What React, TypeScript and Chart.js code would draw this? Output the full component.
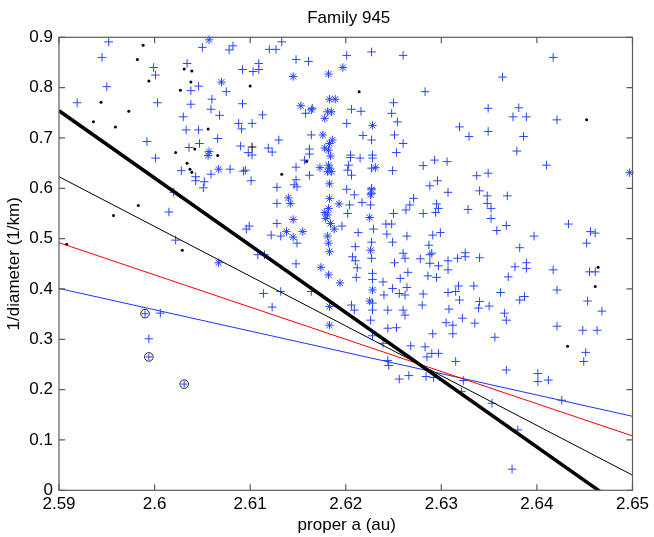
import React, { useEffect, useRef } from "react";
import { Chart, registerables } from "chart.js";

Chart.register(...registerables);

const TITLE = "Family 945";
const X_LABEL = "proper a (au)";
const Y_LABEL = "1/diameter (1/km)";

const X_MIN = 2.59;
const X_MAX = 2.65;
const X_STEP = 0.01;
const Y_MIN = 0;
const Y_MAX = 0.9;
const Y_STEP = 0.1;

// Fit lines (endpoints at the x-axis limits)
const lineX = [2.59, 2.65];
const thickLineY = [0.754, -0.0476];
const thinLineY = [0.623, 0.03];
const redLineY = [0.492, 0.108];
const blueLineY = [0.401, 0.147];

// Blue "+" members
const crossX = [
  2.5952, 2.5945, 2.595, 2.5919, 2.5999, 2.6001, 2.6003, 2.5992, 2.6001, 2.6034,
  2.605, 2.6078, 2.6082, 2.6038, 2.6046, 2.6038, 2.606, 2.6059, 2.603, 2.6068,
  2.6033, 2.6046, 2.6066, 2.6047, 2.6036, 2.6028, 2.6043, 2.6043, 2.6052, 2.6051,
  2.6059, 2.6079, 2.6093, 2.6092, 2.6092, 2.6088, 2.6091, 2.609, 2.6098, 2.6075,
  2.602, 2.6015, 2.6022, 2.6096, 2.6099, 2.6006, 2.5994,
  2.6133, 2.612, 2.6127, 2.6148, 2.6161, 2.6201, 2.6227, 2.626, 2.6109, 2.6109,
  2.6103, 2.6283, 2.6113, 2.6102, 2.6158, 2.6165, 2.6206, 2.6216, 2.6201, 2.625,
  2.6248, 2.6254, 2.613, 2.6164, 2.6218, 2.6227, 2.6251, 2.626, 2.6102, 2.6119,
  2.6123, 2.6162, 2.6162, 2.6157, 2.6205, 2.6205, 2.6215, 2.6228, 2.6228, 2.6253,
  2.6293, 2.6095, 2.6148, 2.6162, 2.6203, 2.6202, 2.6206, 2.6227, 2.6249, 2.6281,
  2.6101, 2.6148, 2.6146, 2.6149, 2.6128, 2.6201, 2.6209, 2.6227, 2.6227, 2.6288,
  2.6296, 2.6271,
  2.6417, 2.6364, 2.6349, 2.6381, 2.6375, 2.6389, 2.6421, 2.6319, 2.6329, 2.6349,
  2.6386, 2.6379, 2.6306, 2.641, 2.6337, 2.6349, 2.6307, 2.634, 2.6348, 2.6369,
  2.6128, 2.6204, 2.6202, 2.6217, 2.6226, 2.6267, 2.6263, 2.6295, 2.6294, 2.625,
  2.6281, 2.6196, 2.6213, 2.6229, 2.6242, 2.6248, 2.6243, 2.6128, 2.6122, 2.6132,
  2.6149, 2.6264, 2.6291, 2.6249, 2.621, 2.6227, 2.6287, 2.6108, 2.6115, 2.6148,
  2.6207, 2.621, 2.6227, 2.626, 2.6262, 2.6251, 2.6278, 2.629, 2.6288, 2.6212,
  2.6228, 2.6228, 2.6211, 2.6265, 2.6257, 2.6239, 2.6286, 2.6295, 2.6114, 2.6132,
  2.6164, 2.6249, 2.6264, 2.6262, 2.624, 2.6256, 2.6281, 2.6206, 2.6209, 2.6228,
  2.6228, 2.6123, 2.6226, 2.6244, 2.626, 2.6262, 2.628, 2.6244, 2.6253, 2.6228,
  2.6291, 2.6268, 2.6283, 2.6239,
  2.6348, 2.6352, 2.6297, 2.6328, 2.6352, 2.6368, 2.6358, 2.6433, 2.6456, 2.6461,
  2.6452, 2.6397, 2.6299, 2.6382, 2.6288, 2.6325, 2.6325, 2.6317, 2.634, 2.6307,
  2.6297, 2.6307, 2.6377, 2.6389, 2.6389, 2.6417, 2.6455, 2.6461, 2.637, 2.6318,
  2.6334, 2.6307, 2.6315, 2.6319, 2.6362, 2.6382, 2.6387, 2.6421, 2.634, 2.6339,
  2.635, 2.6453, 2.6468, 2.6308, 2.6366, 2.6368, 2.6322, 2.6305, 2.6312, 2.6335,
  2.6312, 2.6356, 2.6421, 2.6448, 2.6463,
  2.629, 2.6297, 2.6315, 2.6451, 2.6449, 2.6368, 2.6401, 2.6401, 2.6412, 2.6292,
  2.6323, 2.6321, 2.6426, 2.6353, 2.638, 2.6374, 2.6285, 2.6244, 2.6245, 2.6256,
  2.6266, 2.6284,
];
const crossY = [
  0.891, 0.86, 0.802, 0.77, 0.84, 0.825, 0.77, 0.693, 0.66, 0.848,
  0.88, 0.875, 0.883, 0.794, 0.803, 0.767, 0.777, 0.757, 0.742, 0.745,
  0.716, 0.716, 0.699, 0.689, 0.681, 0.635, 0.623, 0.615, 0.613, 0.601,
  0.628, 0.638, 0.634, 0.836, 0.768, 0.729, 0.718, 0.684, 0.671, 0.792,
  0.592, 0.553, 0.497, 0.519, 0.525, 0.352, 0.301,
  0.891, 0.876, 0.876, 0.856, 0.852, 0.864, 0.871, 0.864, 0.848, 0.836,
  0.832, 0.792, 0.746, 0.729, 0.749, 0.759, 0.757, 0.753, 0.729, 0.77,
  0.749, 0.732, 0.696, 0.706, 0.705, 0.696, 0.706, 0.689, 0.666, 0.68,
  0.672, 0.678, 0.668, 0.656, 0.666, 0.661, 0.66, 0.666, 0.66, 0.671,
  0.656, 0.636, 0.642, 0.626, 0.646, 0.636, 0.626, 0.64, 0.635, 0.645,
  0.615, 0.617, 0.607, 0.603, 0.602, 0.598, 0.587, 0.6, 0.59, 0.605,
  0.615, 0.58,
  0.86, 0.821, 0.759, 0.76, 0.742, 0.742, 0.736, 0.722, 0.703, 0.713,
  0.703, 0.674, 0.653, 0.646, 0.625, 0.63, 0.592, 0.595, 0.585, 0.585,
  0.57, 0.567, 0.55, 0.572, 0.567, 0.567, 0.557, 0.569, 0.552, 0.55,
  0.55, 0.525, 0.512, 0.519, 0.529, 0.529, 0.509, 0.53, 0.507, 0.505,
  0.491, 0.505, 0.507, 0.493, 0.484, 0.493, 0.487, 0.468, 0.468, 0.45,
  0.464, 0.456, 0.461, 0.471, 0.461, 0.452, 0.46, 0.471, 0.451, 0.442,
  0.431, 0.419, 0.423, 0.433, 0.421, 0.414, 0.426, 0.423, 0.391, 0.395,
  0.395, 0.401, 0.403, 0.388, 0.388, 0.391, 0.39, 0.368, 0.358, 0.372,
  0.358, 0.364, 0.338, 0.358, 0.358, 0.348, 0.368, 0.322, 0.323, 0.307,
  0.311, 0.287, 0.285, 0.292,
  0.57, 0.56, 0.56, 0.558, 0.54, 0.526, 0.516, 0.529, 0.514, 0.511,
  0.491, 0.505, 0.512, 0.482, 0.468, 0.472, 0.464, 0.461, 0.462, 0.456,
  0.446, 0.438, 0.444, 0.452, 0.441, 0.438, 0.434, 0.434, 0.424, 0.406,
  0.406, 0.393, 0.395, 0.378, 0.393, 0.378, 0.385, 0.398, 0.375, 0.362,
  0.366, 0.376, 0.356, 0.36, 0.352, 0.338, 0.342, 0.333, 0.328, 0.332,
  0.311, 0.304, 0.326, 0.318, 0.318,
  0.272, 0.272, 0.256, 0.274, 0.256, 0.239, 0.232, 0.216, 0.219, 0.224,
  0.218, 0.196, 0.179, 0.173, 0.12, 0.042, 0.265, 0.258, 0.248, 0.221,
  0.228, 0.226,
];

// Blue "*" members
const starX = [
  2.6057, 2.607, 2.6057, 2.6056, 2.6067, 2.6145, 2.6182, 2.6197, 2.6183, 2.6189,
  2.6153, 2.6164, 2.6181, 2.6185, 2.6178, 2.6228, 2.6176, 2.6186, 2.6183, 2.6178,
  2.6182, 2.6184, 2.6173, 2.6182, 2.6183, 2.6181, 2.6185, 2.6231, 2.6183, 2.614,
  2.6142, 2.6183, 2.6193, 2.6226, 2.6227, 2.6182, 2.6178, 2.6181, 2.6179, 2.6225,
  2.6145, 2.6184, 2.6188, 2.6138, 2.6145, 2.6155, 2.6181, 2.6182, 2.6183, 2.6226,
  2.6174, 2.6182, 2.6194, 2.6228, 2.6225, 2.6183, 2.6183, 2.6067, 2.6497,
];
const starY = [
  0.895, 0.811, 0.673, 0.665, 0.638, 0.822, 0.827, 0.84, 0.777, 0.777,
  0.764, 0.756, 0.752, 0.752, 0.739, 0.725, 0.706, 0.696, 0.689, 0.68,
  0.676, 0.664, 0.641, 0.646, 0.64, 0.633, 0.633, 0.641, 0.609, 0.581,
  0.57, 0.58, 0.569, 0.587, 0.597, 0.56, 0.552, 0.547, 0.54, 0.542,
  0.538, 0.53, 0.519, 0.514, 0.503, 0.514, 0.505, 0.491, 0.474, 0.477,
  0.443, 0.428, 0.412, 0.398, 0.376, 0.365, 0.328, 0.452, 0.631,
];

// Black "." objects
const dotX = [
  2.5988, 2.5982, 2.5994, 2.5944, 2.5936, 2.5973, 2.5959, 2.6031, 2.6039, 2.6038,
  2.6027, 2.6056, 2.6022, 2.6042, 2.6066, 2.6034, 2.6037, 2.6039, 2.61, 2.6214,
  2.6159, 2.6133, 2.5983, 2.5957, 2.5908, 2.6029, 2.6452, 2.6464, 2.6461, 2.6432,
];
const dotY = [
  0.884, 0.856, 0.813, 0.771, 0.732, 0.753, 0.722, 0.837, 0.833, 0.811,
  0.795, 0.718, 0.671, 0.678, 0.665, 0.65, 0.638, 0.632, 0.803, 0.792,
  0.653, 0.628, 0.566, 0.546, 0.489, 0.477, 0.736, 0.443, 0.405, 0.286,
];

// Black "+" object
const blackCrossX = [2.6102];
const blackCrossY = [0.682];

// Circled objects
const ringX = [2.599, 2.5994, 2.6031];
const ringY = [0.351, 0.265, 0.211];

const FONT = '"Liberation Sans", Arial, Helvetica, sans-serif';
const BLUE = "rgb(40,70,255)";

const toPts = (xs: number[], ys: number[]) => xs.map((x, i) => ({ x, y: ys[i] }));

const framePlugin = {
  id: "matlabFrame",
  afterDraw(chart: any) {
    const { ctx, chartArea: a, scales } = chart;
    ctx.save();
    ctx.strokeStyle = "#5c5c5c";
    ctx.lineWidth = 1.2;
    ctx.strokeRect(a.left, a.top, a.right - a.left, a.bottom - a.top);
    const L = 6;
    ctx.beginPath();
    scales.x.ticks.forEach((t: any) => {
      const px = scales.x.getPixelForValue(t.value);
      ctx.moveTo(px, a.bottom);
      ctx.lineTo(px, a.bottom - L);
      ctx.moveTo(px, a.top);
      ctx.lineTo(px, a.top + L);
    });
    scales.y.ticks.forEach((t: any) => {
      const py = scales.y.getPixelForValue(t.value);
      ctx.moveTo(a.left, py);
      ctx.lineTo(a.left + L, py);
      ctx.moveTo(a.right, py);
      ctx.lineTo(a.right - L, py);
    });
    ctx.stroke();

    ctx.fillStyle = "#000";
    ctx.font = `17px ${FONT}`;
    ctx.textAlign = "center";
    ctx.textBaseline = "alphabetic";
    const cx = (a.left + a.right) / 2;
    ctx.fillText(TITLE, cx + 3, a.top - 14);
    ctx.fillText(X_LABEL, cx + 1, a.bottom + 40);
    ctx.translate(14, (a.top + a.bottom) / 2);
    ctx.rotate(-Math.PI / 2);
    ctx.textBaseline = "middle";
    ctx.fillText(Y_LABEL, 0, 0);
    ctx.restore();
  },
};

export default function App() {
  const ref = useRef<HTMLCanvasElement | null>(null);

  useEffect(() => {
    document.body.style.margin = "0";
    if (!ref.current) return;
    const lineDs = (ys: number[], color: string, width: number) => ({
      type: "line" as const,
      data: toPts(lineX, ys),
      borderColor: color,
      borderWidth: width,
      pointRadius: 0,
      showLine: true,
      fill: false,
    });
    const chart = new Chart(ref.current, {
      type: "scatter",
      data: {
        datasets: [
          lineDs(thickLineY, "#000", 3.5),
          lineDs(thinLineY, "#000", 1),
          lineDs(redLineY, "rgb(255,0,0)", 1),
          lineDs(blueLineY, "rgb(30,50,255)", 1),
          {
            data: toPts(ringX, ringY),
            pointStyle: "cross",
            pointRadius: 3.3,
            borderColor: BLUE,
            borderWidth: 1,
            clip: false,
          },
          {
            data: toPts(ringX, ringY),
            pointStyle: "circle",
            pointRadius: 4.3,
            borderColor: "#222",
            backgroundColor: "rgba(0,0,0,0)",
            borderWidth: 1,
            clip: false,
          },
          {
            data: toPts(blackCrossX, blackCrossY),
            pointStyle: "cross",
            pointRadius: 4.3,
            borderColor: "#000",
            borderWidth: 1,
            clip: false,
          },
          {
            data: toPts(dotX, dotY),
            pointStyle: "circle",
            pointRadius: 1.5,
            borderWidth: 0,
            backgroundColor: "#000",
            clip: false,
          },
          {
            data: toPts(starX, starY),
            pointStyle: "star",
            pointRadius: 4.2,
            borderColor: BLUE,
            borderWidth: 1,
            clip: false,
          },
          {
            data: toPts(crossX, crossY),
            pointStyle: "cross",
            pointRadius: 4.3,
            borderColor: BLUE,
            borderWidth: 1,
            clip: false,
          },
        ] as any,
      },
      options: {
        responsive: false,
        animation: false,
        events: [],
        layout: { padding: { top: 37.3, right: 21.5, left: 0, bottom: 0 } },
        plugins: {
          legend: { display: false },
          tooltip: { enabled: false },
          title: { display: false },
        },
        scales: {
          x: {
            type: "linear",
            min: X_MIN,
            max: X_MAX,
            grid: { display: false, drawTicks: false, tickLength: 0 },
            border: { display: false },
            ticks: {
              stepSize: X_STEP,
              padding: 4,
              color: "#000",
              maxRotation: 0,
              autoSkip: false,
              font: { family: FONT, size: 17 },
              callback: (v: any) => String(parseFloat(Number(v).toFixed(2))),
            },
            afterFit: (s: any) => {
              s.height = 46.7;
            },
          },
          y: {
            type: "linear",
            min: Y_MIN,
            max: Y_MAX,
            grid: { display: false, drawTicks: false, tickLength: 0 },
            border: { display: false },
            ticks: {
              stepSize: Y_STEP,
              padding: 6,
              color: "#000",
              autoSkip: false,
              font: { family: FONT, size: 17 },
              callback: (v: any) => String(parseFloat(Number(v).toFixed(1))),
            },
            afterFit: (s: any) => {
              s.width = 59;
            },
          },
        },
      } as any,
      plugins: [framePlugin],
    });
    return () => chart.destroy();
  }, []);

  return (
    <div style={{ position: "absolute", left: 0, top: 0, width: 654, height: 537, background: "#fff" }}>
      <canvas ref={ref} width={654} height={537} style={{ width: 654, height: 537 }} />
    </div>
  );
}
